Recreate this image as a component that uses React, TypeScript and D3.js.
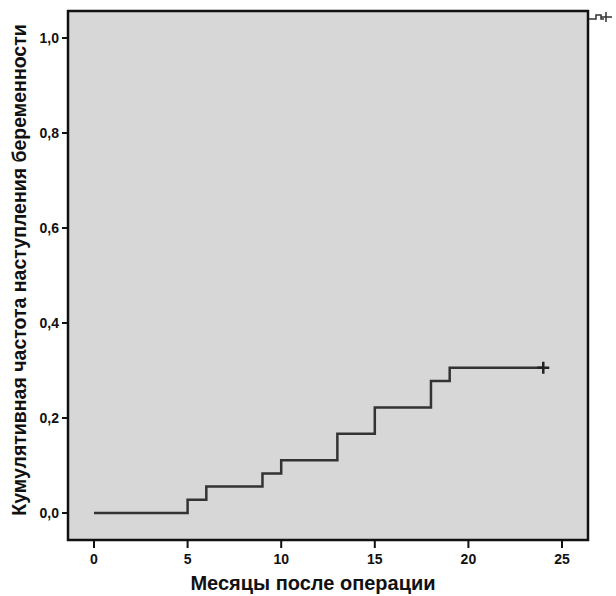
import React, { useEffect, useRef } from 'react';
import * as d3 from 'd3';

// Kaplan-Meier style cumulative curve (months, cumulative frequency)
const eventMonths = [0, 5, 6, 9, 10, 13, 15, 18, 19];
const cumulative = [0, 0.0278, 0.0556, 0.0833, 0.1111, 0.1667, 0.2222, 0.2778, 0.3056];
const censorMonths = [24];
const xTicks = [0, 5, 10, 15, 20, 25];
const yTicks = [0, 0.2, 0.4, 0.6, 0.8, 1.0];
const xTitle = 'Месяцы после операции';
const yTitle = 'Кумулятивная частота наступления беременности';

const W = 616;
const H = 596;
const frame = { left: 68, top: 11, right: 588, bottom: 540 };

function App() {
  const ref = useRef<SVGSVGElement>(null);

  useEffect(() => {
    const svg = d3.select(ref.current);
    svg.selectAll('*').remove();

    const x = d3.scaleLinear().domain([0, 25]).range([94, 562]);
    const y = d3.scaleLinear().domain([0, 1]).range([513, 38]);

    const font = '"Liberation Sans", Arial, sans-serif';

    // plot background + frame
    svg.append('rect')
      .attr('x', frame.left)
      .attr('y', frame.top)
      .attr('width', frame.right - frame.left)
      .attr('height', frame.bottom - frame.top)
      .attr('fill', '#d7d7d7')
      .attr('stroke', '#111')
      .attr('stroke-width', 2.5);

    // y ticks
    const yg = svg.append('g');
    yg.selectAll('line')
      .data(yTicks)
      .join('line')
        .attr('x1', frame.left - 6)
        .attr('x2', frame.left)
        .attr('y1', d => y(d))
        .attr('y2', d => y(d))
        .attr('stroke', '#111')
        .attr('stroke-width', 2);
    yg.selectAll('text')
      .data(yTicks)
      .join('text')
        .attr('x', frame.left - 9)
        .attr('y', d => y(d))
        .attr('dy', '0.36em')
        .attr('text-anchor', 'end')
        .attr('font-family', font)
        .attr('font-weight', 700)
        .attr('font-size', 14)
        .attr('fill', '#111')
        .text(d => d3.format('.1f')(d).replace('.', ','));

    // x ticks
    const xg = svg.append('g');
    xg.selectAll('line')
      .data(xTicks)
      .join('line')
        .attr('x1', d => x(d))
        .attr('x2', d => x(d))
        .attr('y1', frame.bottom)
        .attr('y2', frame.bottom + 8)
        .attr('stroke', '#111')
        .attr('stroke-width', 2);
    xg.selectAll('text')
      .data(xTicks)
      .join('text')
        .attr('x', d => x(d))
        .attr('y', 564)
        .attr('text-anchor', 'middle')
        .attr('font-family', font)
        .attr('font-weight', 700)
        .attr('font-size', 14)
        .attr('fill', '#111')
        .text(d => d);

    // step curve
    const pts: [number, number][] = eventMonths.map((m, i) => [m, cumulative[i]]);
    const last = cumulative[cumulative.length - 1];
    pts.push([censorMonths[0], last]);
    const line = d3.line<[number, number]>()
      .x(d => x(d[0]))
      .y(d => y(d[1]))
      .curve(d3.curveStepAfter);
    svg.append('path')
      .attr('d', line(pts))
      .attr('fill', 'none')
      .attr('stroke', '#333')
      .attr('stroke-width', 2.5);

    // censor marks
    svg.selectAll('path.censor')
      .data(censorMonths)
      .join('path')
        .attr('class', 'censor')
        .attr('d', d => {
          const cx = x(d), cy = y(last);
          return `M${cx - 6},${cy}H${cx + 6}M${cx},${cy - 6}V${cy + 6}`;
        })
        .attr('stroke', '#222')
        .attr('stroke-width', 2.5);

    // cropped legend fragment at top right
    svg.append('path')
      .attr('d', 'M589,19H596V15H601V19H604M601,17H612M606,12V22')
      .attr('fill', 'none')
      .attr('stroke', '#333')
      .attr('stroke-width', 1.5);

    // axis titles
    svg.append('text')
      .attr('x', 313)
      .attr('y', 590)
      .attr('text-anchor', 'middle')
      .attr('font-family', font)
      .attr('font-weight', 700)
      .attr('font-size', 20)
      .attr('fill', '#111')
      .text(xTitle);

    svg.append('text')
      .attr('transform', 'translate(26,270) rotate(-90)')
      .attr('text-anchor', 'middle')
      .attr('font-family', font)
      .attr('font-weight', 700)
      .attr('font-size', 19.5)
      .attr('fill', '#111')
      .text(yTitle);
  }, []);

  return (
    <svg
      ref={ref}
      width={W}
      height={H}
      style={{ position: 'absolute', left: 0, top: 0, background: '#fff' }}
    />
  );
}

export default App;
